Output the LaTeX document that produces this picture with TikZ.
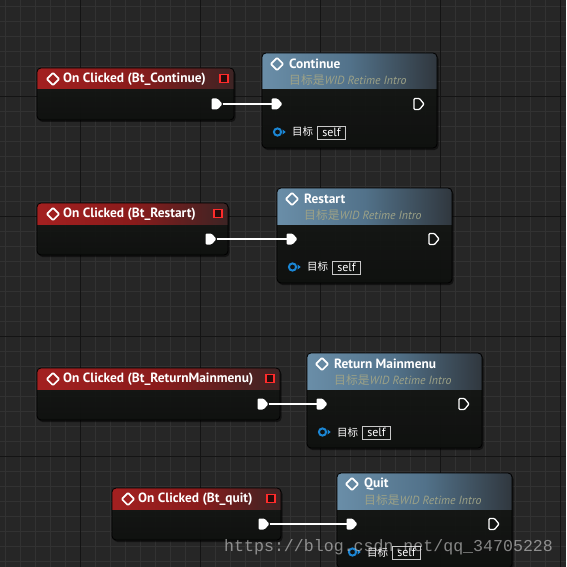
\documentclass[tikz,border=0pt]{standalone}
\usepackage{fontspec}
\setmainfont{PT Sans}
\newfontfamily\cjk{Noto Sans CJK SC}
\newfontfamily\wmfont{Liberation Mono}
\definecolor{bg}{HTML}{262626}
\definecolor{gridminor}{HTML}{323232}
\definecolor{gridmajor}{HTML}{141414}
\definecolor{bodytop}{HTML}{191B19}
\definecolor{bodybot}{HTML}{0F110F}
\definecolor{evred}{HTML}{A32020}
\definecolor{evmid}{HTML}{8A1B1B}
\definecolor{evdark}{HTML}{3C2424}
\definecolor{fnblue}{HTML}{6A8EA8}
\definecolor{fnmid}{HTML}{52728A}
\definecolor{fndark}{HTML}{30373E}
\definecolor{subtxt}{HTML}{9DA287}
\definecolor{pinblue}{HTML}{1B86D4}
\definecolor{sqred}{HTML}{FF2B2B}
\definecolor{sqfill}{HTML}{2A0B0B}
\definecolor{selfedge}{HTML}{C8C8C8}
\definecolor{wiregray}{HTML}{8A8A8A}
\tikzset{
  nodebox/.style={rectangle, rounded corners=4pt, top color=bodytop, bottom color=bodybot, fill opacity=0.93, anchor=north west, inner sep=0pt, outer sep=0pt},
  nodeedge/.style={draw=black, line width=0.8pt, rounded corners=4pt},
  shadowbox/.style={fill=black, opacity=0.5, rounded corners=4pt},
  pinnode/.style={rectangle, minimum width=11pt, minimum height=11pt, inner sep=0pt, outer sep=0pt},
  redsq/.style={rectangle, draw=sqred, fill=sqfill, line width=1.5pt, minimum size=8pt, inner sep=0pt},
  titletext/.style={anchor=west, inner sep=0pt, text=white, font=\bfseries\fontsize{13.4}{15}\selectfont},
  subtext/.style={anchor=west, inner sep=0pt, text=subtxt, font=\fontsize{11.8}{14}\selectfont},
  pinlabel/.style={anchor=west, inner sep=0pt, text=white, font=\cjk\fontsize{10.5}{13}\selectfont},
  selfbox/.style={rectangle, draw=selfedge, line width=0.8pt, minimum width=28pt, minimum height=13pt, inner sep=0pt, text=white, font=\fontsize{12}{13}\selectfont},
  wire/.style={draw=wiregray, line width=0.5pt, double=white, double distance=1.4pt},
  execfill/.pic={\fill[white, rounded corners=1.2pt] (-5.5,-5.5) -- (0.5,-5.5) -- (5.5,0) -- (0.5,5.5) -- (-5.5,5.5) -- cycle;},
  exechollow/.pic={\draw[white, line width=1.3pt, rounded corners=1pt, line join=round] (-5,-5.5) -- (0.5,-5.5) -- (5,0) -- (0.5,5.5) -- (-5,5.5) -- cycle;},
  targetpin/.pic={\draw[pinblue, line width=2pt] (0,0) circle (3.6); \fill[pinblue] (5,-2.6) -- (8.2,0) -- (5,2.6) -- cycle;},
  diam/.pic={\draw[white, line width=1.7pt, rounded corners=1pt] (-6.2,0) -- (0,-6.2) -- (6.2,0) -- (0,6.2) -- cycle;}
}
% event node: name, left, top, right, title
\newcommand\evnode[5]{%
  \fill[shadowbox] (#2+1.5,#3+2) rectangle (#4+1.5,#3+54);
  \node[nodebox, minimum width={(#4-#2)*1pt}, minimum height=52pt] (#1) at (#2,#3) {};
  \begin{scope}
    \clip[rounded corners=4pt] (#1.north west) rectangle (#1.south east);
    \shade[left color=evred, right color=evdark, middle color=evmid] (#1.north west) rectangle ([yshift=-21pt]#1.north east);
  \end{scope}
  \draw[nodeedge] (#1.north west) rectangle (#1.south east);
  \pic at (#2+16,#3+11) {diam};
  \node[titletext] (#1t) at (#2+26,#3+11) {#5};
  \node[redsq] (#1sq) at (#4-10,#3+10.5) {};
  \node[pinnode] (#1out) at (#4-17,#3+36) {};
  \pic at (#1out) {execfill};
}
% function node: name, left, top, title
\newcommand\fnnode[4]{%
  \fill[shadowbox] (#2+1.5,#3+2) rectangle (#2+176.5,#3+97);
  \node[nodebox, minimum width=175pt, minimum height=95pt] (#1) at (#2,#3) {};
  \begin{scope}
    \clip[rounded corners=4pt] (#1.north west) rectangle (#1.south east);
    \shade[left color=fnblue, right color=fndark, middle color=fnmid] (#1.north west) rectangle ([yshift=-36pt]#1.north east);
  \end{scope}
  \draw[nodeedge] (#1.north west) rectangle (#1.south east);
  \pic at (#2+15,#3+11) {diam};
  \node[titletext] (#1t) at (#2+27,#3+11) {#4};
  \node[subtext] (#1s) at (#2+27,#3+27) {{\cjk 目标是}\textit{WID Retime Intro}};
  \node[pinnode] (#1in) at (#2+15,#3+51) {};
  \pic at (#1in) {execfill};
  \node[pinnode] (#1out) at (#2+157,#3+51) {};
  \pic at (#1out) {exechollow};
  \node[pinnode] (#1tg) at (#2+15.5,#3+79) {};
  \pic at (#1tg) {targetpin};
  \node[pinlabel] (#1lb) at (#2+30,#3+79) {目标};
  \node[selfbox] (#1self) at (#2+69.5,#3+79.5) {self};
}
\begin{document}
\begin{tikzpicture}[x=1pt, y=-1pt]
\useasboundingbox (0,0) rectangle (566,567);
\fill[bg] (0,0) rectangle (566,567);
\begin{scope}
\clip (0,0) rectangle (566,567);
\foreach \x in {5.5,20.5,...,566} \draw[gridminor, line width=1pt] (\x,0) -- (\x,567);
\foreach \y in {6.5,21.5,...,567} \draw[gridminor, line width=1pt] (0,\y) -- (566,\y);
\foreach \x in {80.5,200.5,320.5,440.5,560.5} \draw[gridmajor, line width=1pt] (\x,0) -- (\x,567);
\foreach \y in {96.5,216.5,336.5,456.5} \draw[gridmajor, line width=1pt] (0,\y) -- (566,\y);

\evnode{ec}{37}{68}{234}{On Clicked (Bt\_Continue)}
\evnode{er}{37}{203}{228}{On Clicked (Bt\_Restart)}
\evnode{em}{37}{368}{280}{On Clicked (Bt\_ReturnMainmenu)}
\evnode{eq}{112}{488}{281}{On Clicked (Bt\_quit)}

\fnnode{fc}{262}{53}{Continue}
\fnnode{fr}{277}{188}{Restart}
\fnnode{fm}{307}{353}{Return Mainmenu}
\fnnode{fq}{337}{473}{Quit}

\draw[wire] (ecout.east) -- (fcin.west);
\draw[wire] (erout.east) -- (frin.west);
\draw[wire] (emout.east) -- (fmin.west);
\draw[wire] (eqout.east) -- (fqin.west);

\node[anchor=west, inner sep=0pt, text=white!80!gray, opacity=0.55, font=\wmfont\fontsize{16.6}{18}\selectfont] (wm) at (224,547) {https://blog.csdn.net/qq\_34705228};
\end{scope}
\end{tikzpicture}
\end{document}
